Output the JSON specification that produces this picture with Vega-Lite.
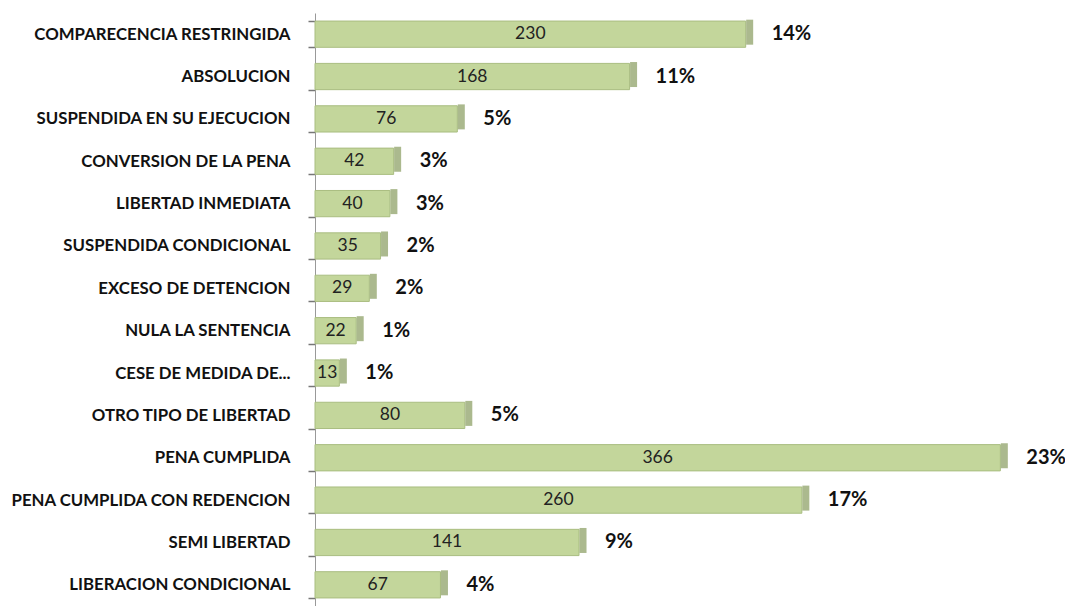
{
  "$schema": "https://vega.github.io/schema/vega-lite/v6.json",
  "width": 749,
  "height": 593,
  "autosize": "none",
  "padding": {"left": 315, "top": 13, "right": 1, "bottom": 0},
  "background": "white",
  "config": {"view": {"stroke": null}},
  "data": {"values": [
    {"cat": "COMPARECENCIA RESTRINGIDA", "value": 230, "pct": "14%"},
    {"cat": "ABSOLUCION", "value": 168, "pct": "11%"},
    {"cat": "SUSPENDIDA EN SU EJECUCION", "value": 76, "pct": "5%"},
    {"cat": "CONVERSION DE LA PENA", "value": 42, "pct": "3%"},
    {"cat": "LIBERTAD INMEDIATA", "value": 40, "pct": "3%"},
    {"cat": "SUSPENDIDA CONDICIONAL", "value": 35, "pct": "2%"},
    {"cat": "EXCESO DE DETENCION", "value": 29, "pct": "2%"},
    {"cat": "NULA LA SENTENCIA", "value": 22, "pct": "1%"},
    {"cat": "CESE DE MEDIDA DE...", "value": 13, "pct": "1%"},
    {"cat": "OTRO TIPO DE LIBERTAD", "value": 80, "pct": "5%"},
    {"cat": "PENA CUMPLIDA", "value": 366, "pct": "23%"},
    {"cat": "PENA CUMPLIDA CON  REDENCION", "value": 260, "pct": "17%"},
    {"cat": "SEMI LIBERTAD", "value": 141, "pct": "9%"},
    {"cat": "LIBERACION CONDICIONAL", "value": 67, "pct": "4%"}
  ]},
  "encoding": {
    "y": {"field": "cat", "type": "nominal", "sort": null,
      "scale": {"paddingInner": 0.38, "paddingOuter": 0.19},
      "axis": {"title": null, "labelFont": "Lato", "labelFontWeight": "bold", "labelFontSize": 16.8, "labelColor": "#111",
        "labelPadding": 18, "ticks": true, "tickBand": "extent", "tickSize": 7, "tickWidth": 1.5, "tickColor": "#777", "tickOpacity": 1, "domainColor": "#999", "labelLimit": 320}}
  },
  "layer": [
    {"mark": {"type": "bar", "color": "#c3d69b", "stroke": "#a9bd80", "strokeWidth": 1},
     "encoding": {"x": {"field": "value", "type": "quantitative", "scale": {"domain": [0, 400]}, "axis": null}}},
    {"mark": {"type": "tick", "color": "#879b5e", "thickness": 7, "xOffset": 4, "yOffset": -2, "size": 25},
     "encoding": {"x": {"field": "value", "type": "quantitative", "scale": {"domain": [0, 400]}, "axis": null}}},
    {"mark": {"type": "text", "font": "Lato", "fontSize": 17.5, "color": "#222", "align": "center", "baseline": "middle"},
     "encoding": {"x": {"field": "value", "type": "quantitative", "scale": {"domain": [0, 800]}, "axis": null}, "text": {"field": "value"}}},
    {"mark": {"type": "text", "font": "Lato", "fontWeight": "bold", "fontSize": 20, "color": "#111", "align": "left", "baseline": "middle", "dx": 26},
     "encoding": {"x": {"field": "value", "type": "quantitative", "scale": {"domain": [0, 400]}, "axis": null}, "text": {"field": "pct"}}}
  ],
  "resolve": {"scale": {"x": "independent"}}
}
